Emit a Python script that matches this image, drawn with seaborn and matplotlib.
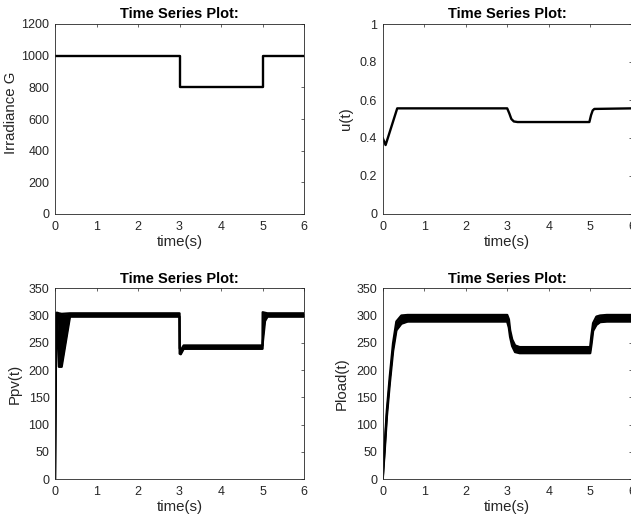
import numpy as np
import pandas as pd
import matplotlib
matplotlib.use("Agg")
import matplotlib.pyplot as plt
import seaborn as sns

# ---------------- data ----------------
g_t = [0.0, 3.0, 3.0, 5.0, 5.0, 6.0]
g_val = [1000, 1000, 800, 800, 1000, 1000]

u_t = [0.00, 0.07, 0.35, 3.00, 3.05, 3.10, 3.16, 3.25, 4.98, 5.02, 5.06, 5.10, 6.00]
u_val = [0.400, 0.363, 0.556, 0.556, 0.530, 0.500, 0.487, 0.484, 0.484, 0.520, 0.545, 0.553, 0.556]

ppv_t = [0.00, 0.03, 0.055, 0.095, 0.16, 0.36, 3.00, 3.005, 3.03, 3.10, 5.00, 5.005, 5.06, 5.12, 6.00]
ppv_hi = [0, 305, 305, 304, 303, 304, 304, 240, 236, 245, 245, 306, 305, 304, 304]
ppv_lo = [0, 300, 300, 206, 206, 298, 298, 230, 229, 239, 239, 250, 290, 298, 298]

pl_t = [0.00, 0.05, 0.10, 0.17, 0.25, 0.33, 0.45, 0.60, 3.00, 3.04, 3.07, 3.12, 3.19, 3.30,
        5.00, 5.03, 5.07, 5.15, 5.24, 5.40, 6.00]
pl_hi = [3, 63, 125, 187, 249, 289, 300, 301, 301, 293, 273, 256, 245, 242,
         242, 263, 286, 298, 300, 301, 301]
pl_lo = [0, 55, 115, 175, 235, 273, 285, 289, 289, 278, 261, 244, 233, 231,
         231, 247, 272, 283, 288, 289, 289]

x_ticks = [0, 1, 2, 3, 4, 5, 6]
g_ticks = [0, 200, 400, 600, 800, 1000, 1200]
u_ticks = [0, 0.2, 0.4, 0.6, 0.8, 1]
p_ticks = [0, 50, 100, 150, 200, 250, 300, 350]

title_txt = "Time Series Plot:"
xlabel_txt = "time(s)"

# ---------------- style ----------------
sns.set_theme(style="white")
plt.rcParams["font.family"] = ["Liberation Sans", "DejaVu Sans"]
plt.rcParams["axes.edgecolor"] = "#262626"
plt.rcParams["axes.linewidth"] = 0.6

fig = plt.figure(figsize=(6.31, 5.25), dpi=100)
fig.patch.set_facecolor("white")

positions = {
    "g": [55 / 631, (525 - 214) / 525, 249 / 631, 190 / 525],
    "u": [382.7 / 631, (525 - 214) / 525, 249 / 631, 190 / 525],
    "ppv": [55 / 631, (525 - 479) / 525, 249 / 631, 190.7 / 525],
    "pl": [382.7 / 631, (525 - 479) / 525, 249 / 631, 190.7 / 525],
}

def style_axis(ax, yticks, ylim, ylabel, ylab_x, ylab_y=0.5):
    ax.set_xlim(0, 6)
    ax.set_ylim(*ylim)
    ax.set_xticks(x_ticks)
    ax.set_xticklabels([str(v) for v in x_ticks])
    ax.set_yticks(yticks)
    ax.set_yticklabels([("%g" % v) for v in yticks])
    ax.tick_params(direction="in", top=True, right=True, length=2.5, width=0.5,
                   colors="#262626", labelsize=9, pad=4)
    ax.tick_params(axis="x", pad=5)
    for s in ax.spines.values():
        s.set_visible(True)
        s.set_color("#262626")
        s.set_linewidth(0.6)
    ax.set_title(title_txt, fontsize=10.5, fontweight="bold", pad=4, color="black")
    ax.set_xlabel(xlabel_txt, fontsize=10.8, color="#262626", labelpad=1.5)
    ax.set_ylabel(ylabel, fontsize=10.8, color="#262626")
    ax.yaxis.set_label_coords(ylab_x, ylab_y)
    ax.set_facecolor("white")

lw = 1.7

# Irradiance
ax1 = fig.add_axes(positions["g"])
df_g = pd.DataFrame({"t": g_t, "v": g_val})
sns.lineplot(data=df_g, x="t", y="v", ax=ax1, color="black", linewidth=lw,
             estimator=None, sort=False)
style_axis(ax1, g_ticks, (0, 1200), "Irradiance G", -0.15, 0.53)

# u(t)
ax2 = fig.add_axes(positions["u"])
df_u = pd.DataFrame({"t": u_t, "v": u_val})
sns.lineplot(data=df_u, x="t", y="v", ax=ax2, color="black", linewidth=1.7,
             estimator=None, sort=False)
style_axis(ax2, u_ticks, (0, 1), "u(t)", -0.118)

# Ppv
ax3 = fig.add_axes(positions["ppv"])
df_p = pd.DataFrame({"t": ppv_t, "hi": ppv_hi, "lo": ppv_lo})
ax3.fill_between(df_p["t"], df_p["lo"], df_p["hi"], color="black", linewidth=0)
sns.lineplot(data=df_p, x="t", y="hi", ax=ax3, color="black", linewidth=lw,
             estimator=None, sort=False)
sns.lineplot(data=df_p, x="t", y="lo", ax=ax3, color="black", linewidth=lw,
             estimator=None, sort=False)
style_axis(ax3, p_ticks, (0, 350), "Ppv(t)", -0.135)

# Pload
ax4 = fig.add_axes(positions["pl"])
df_l = pd.DataFrame({"t": pl_t, "hi": pl_hi, "lo": pl_lo})
ax4.fill_between(df_l["t"], df_l["lo"], df_l["hi"], color="black", linewidth=0)
sns.lineplot(data=df_l, x="t", y="hi", ax=ax4, color="black", linewidth=lw,
             estimator=None, sort=False)
sns.lineplot(data=df_l, x="t", y="lo", ax=ax4, color="black", linewidth=lw,
             estimator=None, sort=False)
style_axis(ax4, p_ticks, (0, 350), "Pload(t)", -0.138)

fig.savefig("out.png", dpi=100, facecolor="white")
